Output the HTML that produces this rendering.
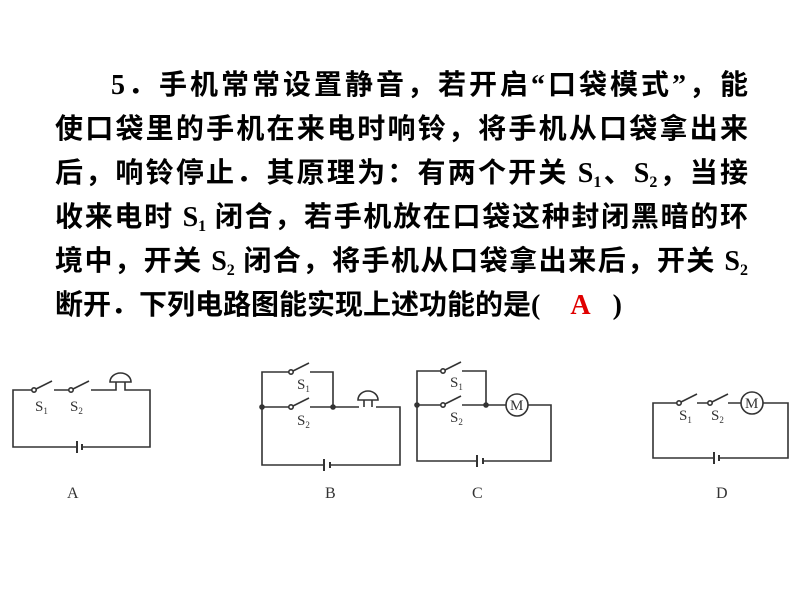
<!DOCTYPE html>
<html><head><meta charset="utf-8"><style>
body{margin:0;width:800px;height:600px;background:#fff;position:relative;overflow:hidden}
.l{position:absolute;left:55px;width:693px;font-family:"Liberation Serif","Noto Sans CJK SC",sans-serif;font-size:28px;font-weight:bold;line-height:44px;text-align:justify;text-align-last:justify;white-space:nowrap;color:#000}
sub{font-size:16px;vertical-align:-5px;line-height:0}
</style></head><body>
<div class="l" style="top:64px;left:111px;width:637px">5．手机常常设置静音，若开启“口袋模式”，能</div>
<div class="l" style="top:108px">使口袋里的手机在来电时响铃，将手机从口袋拿出来</div>
<div class="l" style="top:152px">后，响铃停止．其原理为：有两个开关 S<sub>1</sub>、S<sub>2</sub>，当接</div>
<div class="l" style="top:196px">收来电时 S<sub>1</sub> 闭合，若手机放在口袋这种封闭黑暗的环</div>
<div class="l" style="top:240px">境中，开关 S<sub>2</sub> 闭合，将手机从口袋拿出来后，开关 S<sub>2</sub></div>
<div class="l" style="top:284px;text-align-last:left">断开．下列电路图能实现上述功能的是(<span style="color:#e00000;margin:0 22px 0 30px">A</span>)</div>
<svg width="800" height="600" style="position:absolute;left:0;top:0" font-family="Liberation Serif,serif" fill="none" stroke="#333" stroke-width="1.6">
<!-- A -->
<path d="M34 390H13V447H77M82 447H150V390H127M110 390H91M71 390H54"/>
<circle cx="34" cy="390" r="2.2" fill="#fff"/><path d="M36 389L52 381"/>
<circle cx="71" cy="390" r="2.2" fill="#fff"/><path d="M73 389L89 381"/>
<path d="M110 382a10.5 9 0 0 1 21 0zM116 382v8H110M125 382v8h2"/>
<path d="M77 441v12M82 444v6" stroke-width="2"/>
<!-- B -->
<path d="M291 372H262V465H324M330 465H400V407H376M359 407H333V372H310M262 407H291M310 407H333"/>
<circle cx="291" cy="372" r="2.2" fill="#fff"/><path d="M293 371L309 363"/>
<circle cx="291" cy="407" r="2.2" fill="#fff"/><path d="M293 406L309 398"/>
<circle cx="262" cy="407" r="2" fill="#333"/><circle cx="333" cy="407" r="2" fill="#333"/>
<path d="M358 400a10 9 0 0 1 20 0zM364 400v7M372 400v7"/>
<path d="M324 459v12M330 462v6" stroke-width="2"/>
<!-- C -->
<path d="M443 371H417V461H477M483 461H551V405H528M506 405H486V371H462M417 405H443M462 405H486"/>
<circle cx="443" cy="371" r="2.2" fill="#fff"/><path d="M445 370L461 362"/>
<circle cx="443" cy="405" r="2.2" fill="#fff"/><path d="M445 404L461 396"/>
<circle cx="417" cy="405" r="2" fill="#333"/><circle cx="486" cy="405" r="2" fill="#333"/>
<circle cx="517" cy="405" r="11"/>
<path d="M477 455v12M483 458v6" stroke-width="2"/>
<!-- D -->
<path d="M679 403H653V458H714M719 458H788V403H763M741 403H728M710 403H697"/>
<circle cx="679" cy="403" r="2.2" fill="#fff"/><path d="M681 402L697 394"/>
<circle cx="710" cy="403" r="2.2" fill="#fff"/><path d="M712 402L728 394"/>
<circle cx="752" cy="403" r="11"/>
<path d="M714 452v12M719 455v6" stroke-width="2"/>
<g fill="#333" stroke="none" font-size="15">
<text x="35" y="411">S<tspan font-size="9" dy="3">1</tspan></text>
<text x="70" y="411">S<tspan font-size="9" dy="3">2</tspan></text>
<text x="297" y="389">S<tspan font-size="9" dy="3">1</tspan></text>
<text x="297" y="425">S<tspan font-size="9" dy="3">2</tspan></text>
<text x="450" y="387">S<tspan font-size="9" dy="3">1</tspan></text>
<text x="450" y="422">S<tspan font-size="9" dy="3">2</tspan></text>
<text x="679" y="420">S<tspan font-size="9" dy="3">1</tspan></text>
<text x="711" y="420">S<tspan font-size="9" dy="3">2</tspan></text>
<text x="510" y="410" font-size="15">M</text>
<text x="745" y="408" font-size="15">M</text>
<text x="67" y="498" font-size="16">A</text>
<text x="325" y="498" font-size="16">B</text>
<text x="472" y="498" font-size="16">C</text>
<text x="716" y="498" font-size="16">D</text>
</g>
</svg>
</body></html>
